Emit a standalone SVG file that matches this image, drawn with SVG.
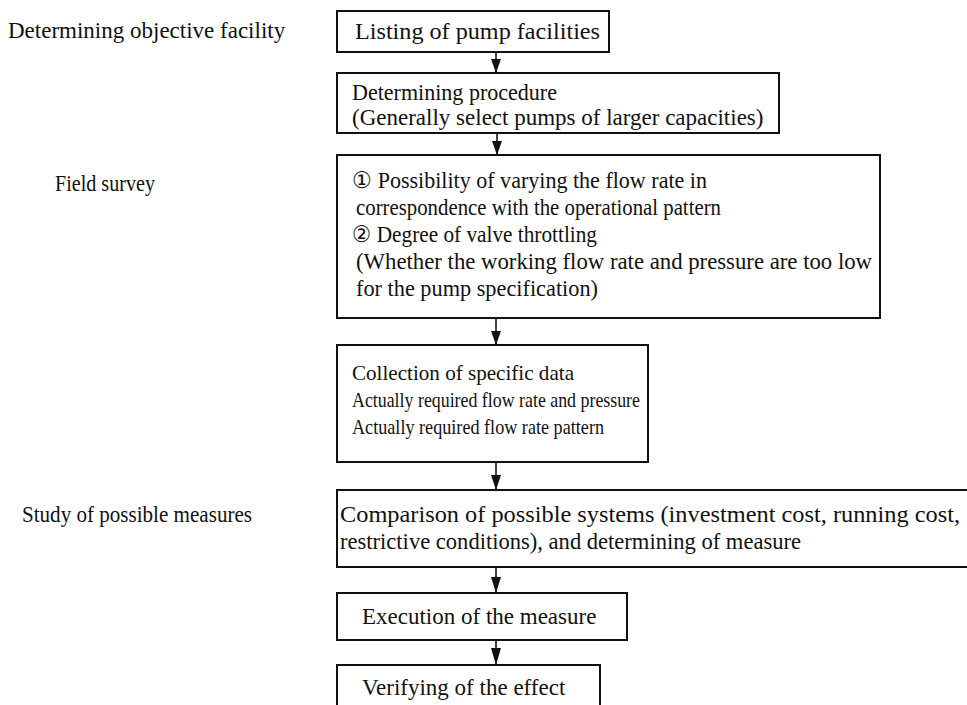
<svg xmlns="http://www.w3.org/2000/svg" width="967" height="705" viewBox="0 0 967 705">
<style>
.t{font-family:"Liberation Serif","Times New Roman",serif;font-size:23px;fill:#111}
.s{font-size:22px}
.b{fill:#fff;stroke:#111;stroke-width:2}
.c{stroke:#111;stroke-width:1.6;fill:none}
.h{fill:#111}
</style>
<rect width="967" height="705" fill="#fff"/>
<g id="labels">
<text class="t" x="8" y="38">Determining objective facility</text>
<text class="t" x="55" y="191" textLength="100" lengthAdjust="spacingAndGlyphs">Field survey</text>
<text class="t" x="22" y="522" textLength="230" lengthAdjust="spacingAndGlyphs">Study of possible measures</text>
</g>
<g id="connectors">
<line class="c" x1="496" y1="52" x2="496" y2="73"/>
<path class="h" d="M491,59 L501,59 L496,73 Z"/>
<line class="c" x1="497" y1="133" x2="497" y2="155"/>
<path class="h" d="M492,141 L502,141 L497,155 Z"/>
<line class="c" x1="496" y1="318" x2="496" y2="345"/>
<path class="h" d="M491,331 L501,331 L496,345 Z"/>
<line class="c" x1="496" y1="462" x2="496" y2="490"/>
<path class="h" d="M491,475 L501,475 L496,490 Z"/>
<line class="c" x1="496" y1="567" x2="496" y2="593"/>
<path class="h" d="M491,577 L501,577 L496,593 Z"/>
<line class="c" x1="496" y1="640" x2="496" y2="665"/>
<path class="h" d="M491,648 L501,648 L496,665 Z"/>
</g>
<g id="n1">
<rect class="b" x="337" y="11" width="272" height="41"/>
<text class="t" x="355" y="39" textLength="245" lengthAdjust="spacingAndGlyphs">Listing of pump facilities</text>
</g>
<g id="n2">
<rect class="b" x="337" y="73" width="442" height="60"/>
<text class="t" x="352" y="100" textLength="205" lengthAdjust="spacingAndGlyphs">Determining procedure</text>
<text class="t" x="352" y="125">(Generally select pumps of larger capacities)</text>
</g>
<g id="n3">
<rect class="b" x="337" y="155" width="543" height="163"/>
<text class="t" x="352" y="188" textLength="355" lengthAdjust="spacingAndGlyphs">① Possibility of varying the flow rate in</text>
<text class="t" x="356" y="215" textLength="365" lengthAdjust="spacingAndGlyphs">correspondence with the operational pattern</text>
<text class="t" x="352" y="242" textLength="245" lengthAdjust="spacingAndGlyphs">② Degree of valve throttling</text>
<text class="t" x="356" y="269" textLength="516" lengthAdjust="spacingAndGlyphs">(Whether the working flow rate and pressure are too low</text>
<text class="t" x="356" y="296" textLength="242" lengthAdjust="spacingAndGlyphs">for the pump specification)</text>
</g>
<g id="n4">
<rect class="b" x="337" y="345" width="311" height="117"/>
<text class="t s" x="352" y="380" textLength="222" lengthAdjust="spacingAndGlyphs">Collection of specific data</text>
<text class="t s" x="352" y="407" textLength="288" lengthAdjust="spacingAndGlyphs">Actually required flow rate and pressure</text>
<text class="t s" x="352" y="434" textLength="252" lengthAdjust="spacingAndGlyphs">Actually required flow rate pattern</text>
</g>
<g id="n5">
<rect class="b" x="337" y="490" width="640" height="77"/>
<text class="t" x="340" y="522" textLength="620" lengthAdjust="spacingAndGlyphs">Comparison of possible systems (investment cost, running cost,</text>
<text class="t" x="340" y="549" textLength="461" lengthAdjust="spacingAndGlyphs">restrictive conditions), and determining of measure</text>
</g>
<g id="n6">
<rect class="b" x="337" y="593" width="290" height="47"/>
<text class="t" x="362" y="624">Execution of the measure</text>
</g>
<g id="n7">
<rect class="b" x="337" y="665" width="263" height="50"/>
<text class="t" x="362" y="695">Verifying of the effect</text>
</g>
</svg>
